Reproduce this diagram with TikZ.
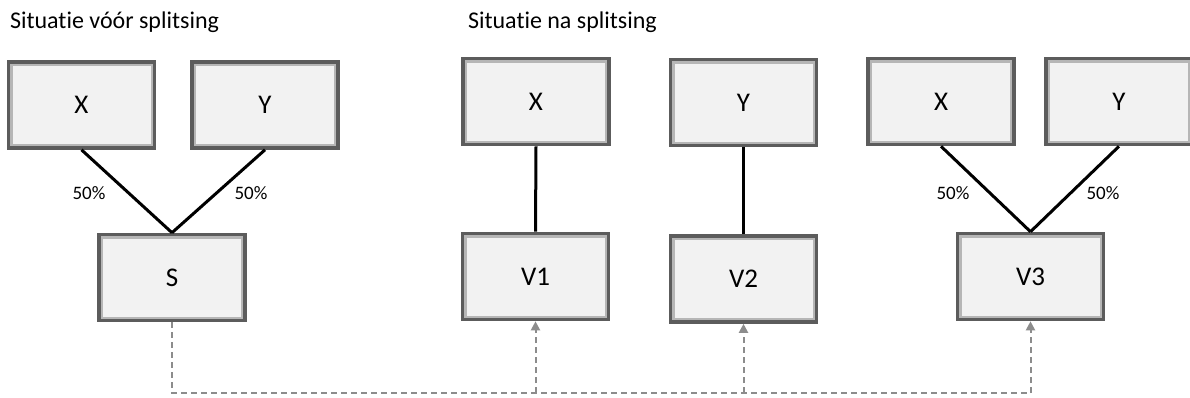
\documentclass[tikz,border=0pt]{standalone}
\usepackage{fontspec}
\setmainfont{Carlito}[Ligatures=NoCommon]
\usetikzlibrary{arrows.meta}
\definecolor{boxfill}{HTML}{F2F2F2}
\definecolor{boxline}{HTML}{5C5C5C}
\definecolor{dashgray}{HTML}{8C8C8C}
\begin{document}
\begin{tikzpicture}[x=0.5pt, y=-0.5pt,
    entity/.style={draw=boxline, fill=boxfill, line width=1.8pt, minimum width=73pt, minimum height=43pt, font=\fontsize{13.5}{15}\selectfont,
      path picture={\draw[boxline!45, line width=1.2pt] ([shift={(1.4pt,-1.4pt)}]path picture bounding box.north west) rectangle ([shift={(-1.4pt,1.4pt)}]path picture bounding box.south east);}},
    share/.style={font=\fontsize{9.5}{11}\selectfont},
    link/.style={line width=1.5pt},
    ref/.style={draw=dashgray, line width=1pt, dash pattern=on 3pt off 2pt},
    refarrow/.style={ref, -{Triangle[width=4.5pt,length=4.5pt]}, dashgray}]
    \clip (0,0) rectangle (1190,397);
    \useasboundingbox (0,0) rectangle (1190,397);

    % titels
    \node[anchor=west, font=\fontsize{12}{14}\selectfont] (T_voor) at (3,22) {Situatie vóór splitsing};
    \node[anchor=west, font=\fontsize{12}{14}\selectfont] (T_na) at (461,22) {Situatie na splitsing};

    % voor splitsing
    \node[entity] (X_voor) at (81.5,105) {X};
    \node[entity] (Y_voor) at (265,105) {Y};
    \node[entity] (S) at (172,277.5) {S};

    % na splitsing
    \node[entity] (X_V1) at (536,101.5) {X};
    \node[entity] (Y_V2) at (743.5,102.5) {Y};
    \node[entity] (V1) at (535.5,276.5) {V1};
    \node[entity] (V2) at (743.5,279) {V2};
    \node[entity] (X_V3) at (941,101.5) {X};
    \node[entity] (Y_V3) at (1119,101.5) {Y};
    \node[entity] (V3) at (1030.5,276.5) {V3};

    % percentages
    \node[share] (P_X_S) at (89,193) {50\%};
    \node[share] (P_Y_S) at (251,193) {50\%};
    \node[share] (P_X_V3) at (953,193) {50\%};
    \node[share] (P_Y_V3) at (1103,193) {50\%};

    \draw[link] (X_voor.south) -- (S.north);
    \draw[link] (Y_voor.south) -- (S.north);
    \draw[link] (X_V1.south) -- (V1.north);
    \draw[link] (Y_V2.south) -- (V2.north);
    \draw[link] (X_V3.south) -- (V3.north);
    \draw[link] (Y_V3.south) -- (V3.north);

    % verwijzingen
    \coordinate (bus) at (172,393);
    \draw[ref] (S.south) -- (bus) -- (bus -| V3.south);
    \draw[refarrow] (bus -| V1.south) -- (V1.south);
    \draw[refarrow] (bus -| V2.south) -- (V2.south);
    \draw[refarrow] (bus -| V3.south) -- (V3.south);
\end{tikzpicture}
\end{document}
